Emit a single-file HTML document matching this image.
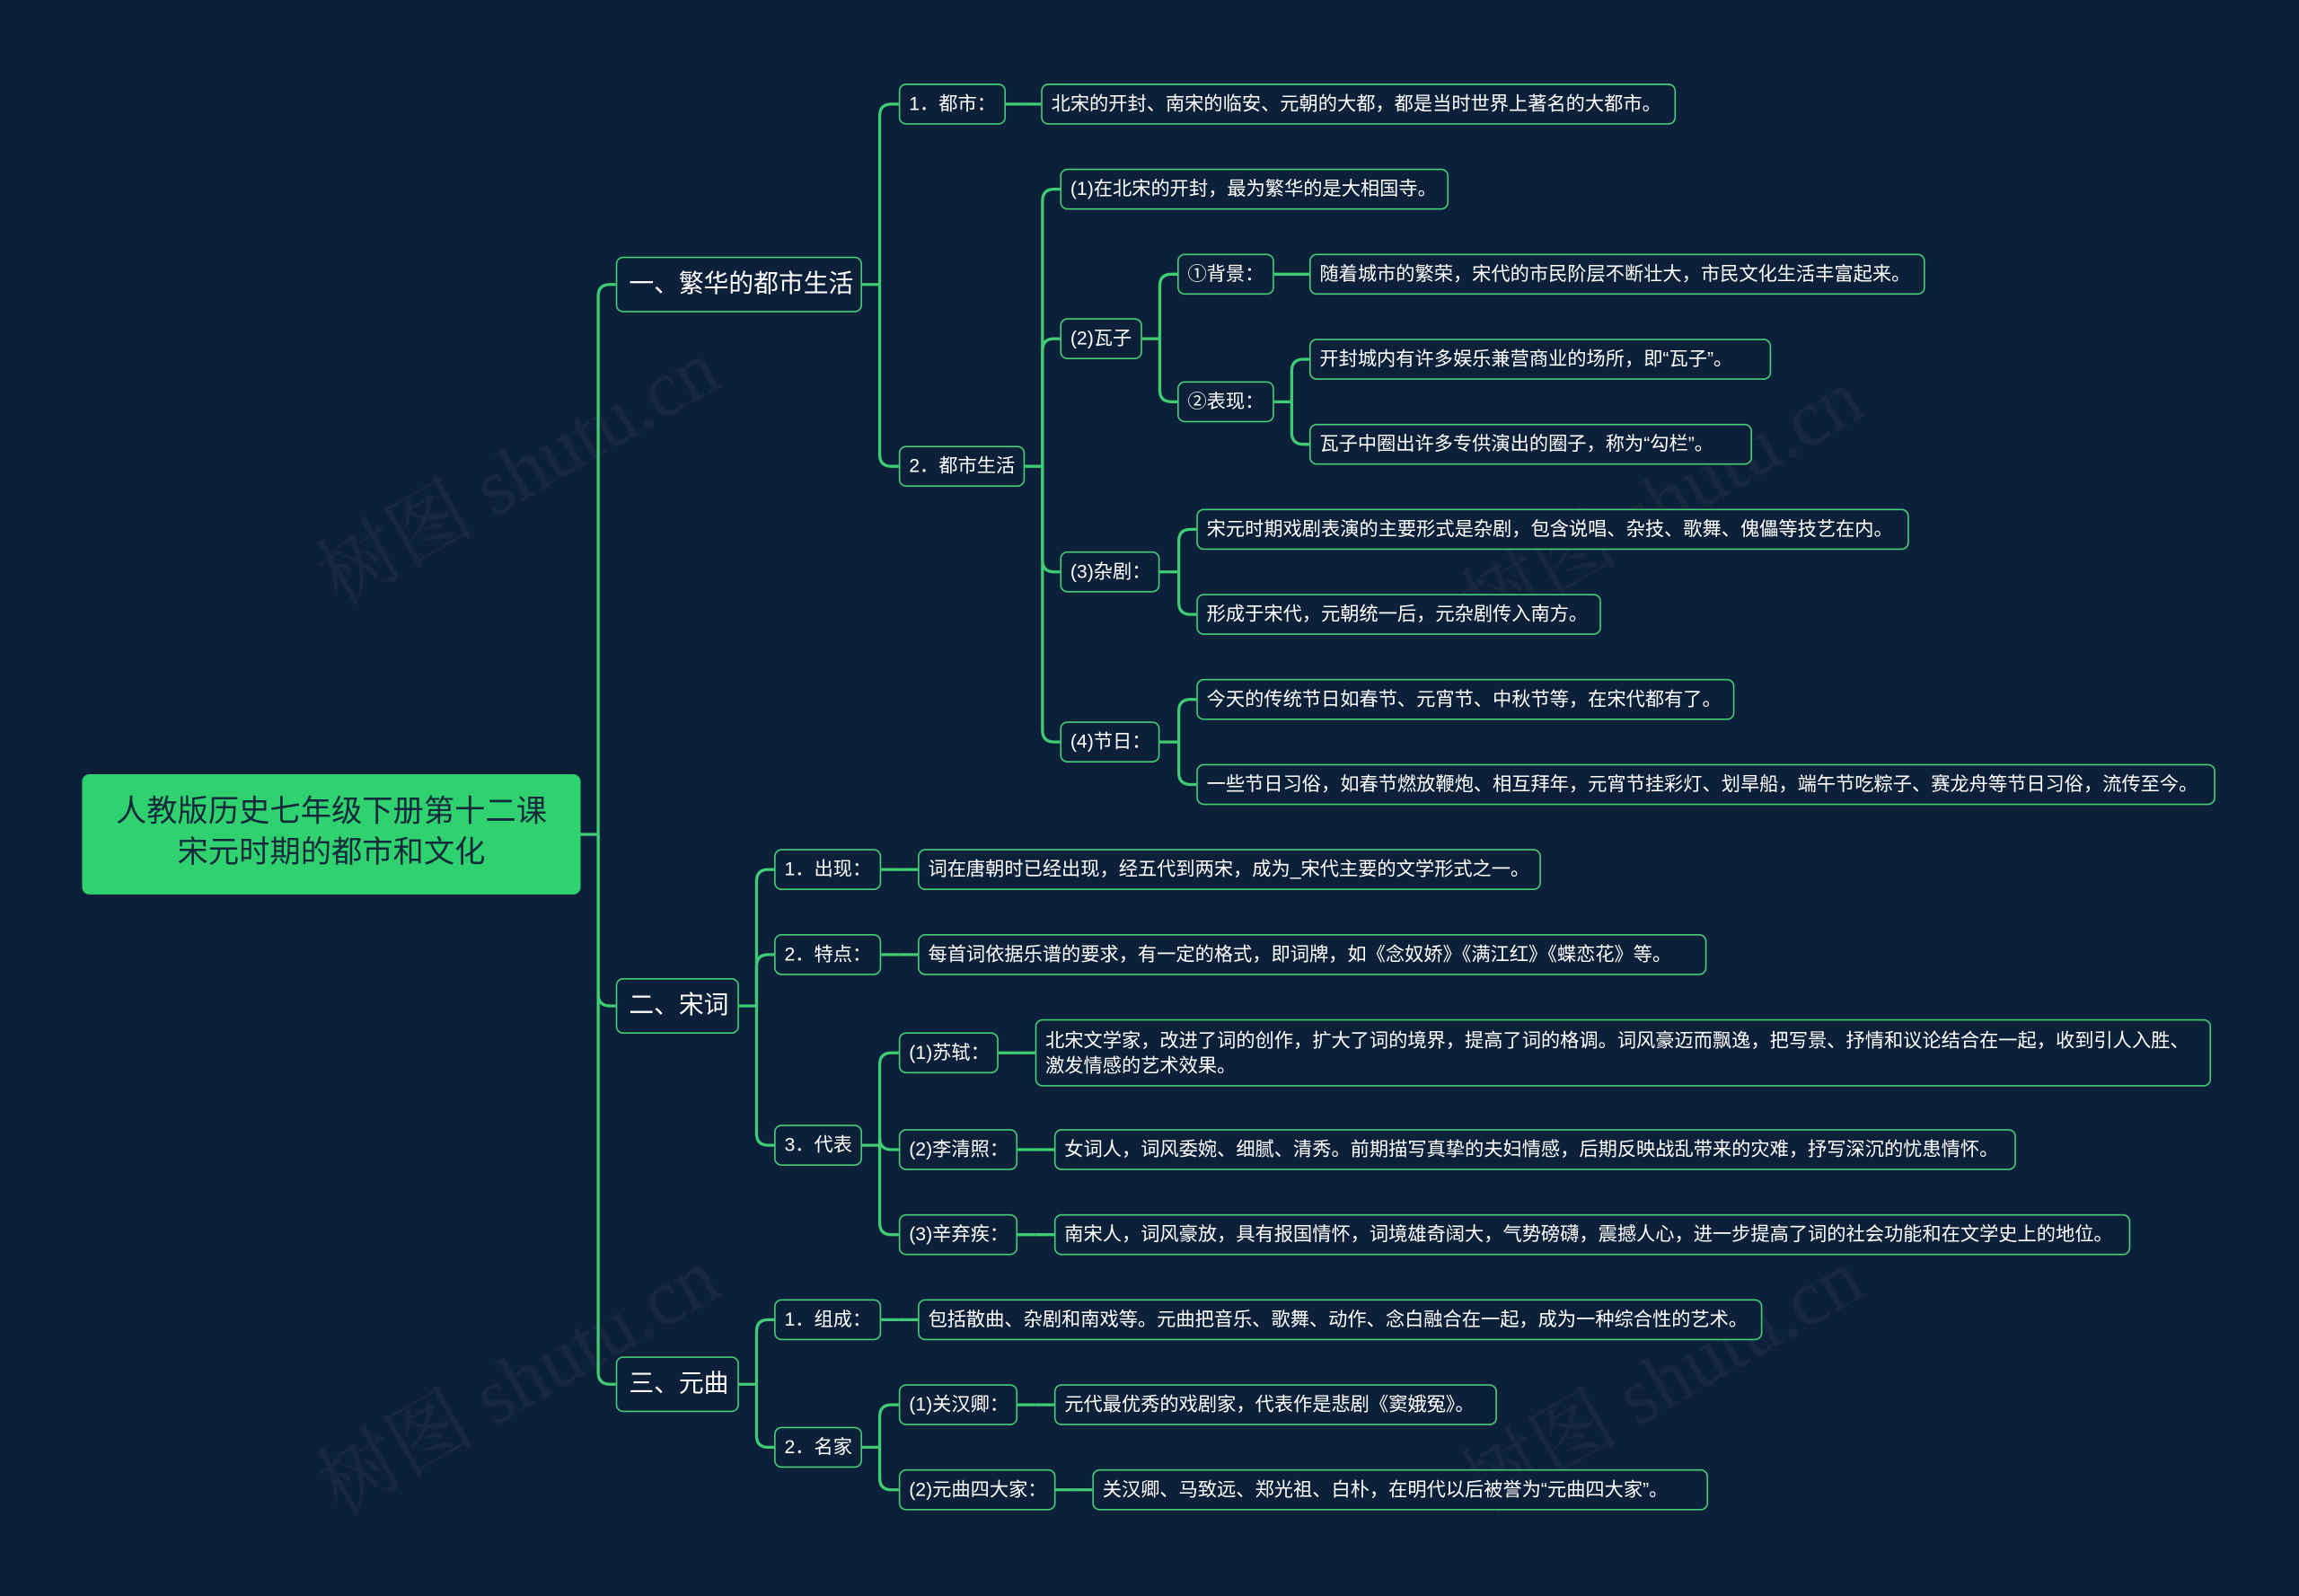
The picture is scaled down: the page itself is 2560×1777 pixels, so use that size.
<!DOCTYPE html>
<html><head><meta charset="utf-8">
<style>
html,body{margin:0;padding:0;background:#0d2039;}
body{width:2560px;height:1777px;overflow:hidden;}
#w{position:absolute;left:0;top:0;width:1568px;height:1088px;transform:scale(1.63265);transform-origin:0 0;font-family:"Liberation Sans","Noto Sans CJK SC",sans-serif;}
.n{position:absolute;box-sizing:border-box;border:1.2px solid #45cc78;border-radius:5px;background:#0d2039;color:#fff;font-size:13px;line-height:26px;height:28px;padding:0 6px;white-space:nowrap;}
.l1{font-size:17px;line-height:36px;height:38px;padding:0 8px;}
.root{position:absolute;left:56px;top:528px;width:340px;height:82px;background:#2fd26e;border-radius:5px;color:#142a3c;font-size:21px;line-height:28px;text-align:center;box-sizing:border-box;padding-top:12px;}
.wm{position:absolute;color:rgba(255,255,255,0.04);font-size:54px;transform:rotate(-30deg);font-family:"Liberation Serif","Noto Serif CJK SC",serif;white-space:nowrap;}
svg{position:absolute;left:0;top:0;}
</style></head><body><div id="w">
<div class="wm" style="left:200px;top:280px">树图 shutu.cn</div>
<div class="wm" style="left:980px;top:300px">树图 shutu.cn</div>
<div class="wm" style="left:200px;top:900px">树图 shutu.cn</div>
<div class="wm" style="left:980px;top:900px">树图 shutu.cn</div>
<svg width="1568" height="1088" fill="none" stroke="#3fcc74" stroke-width="2" id="s"></svg>
<div class="root">人教版历史七年级下册第十二课<br>宋元时期的都市和文化</div>
<div id="nodes"></div>
</div>
<script>
var N=[
// x1,y1,x2,y2,text,cls
[420,175,588,213,"一、繁华的都市生活","l1"],
[420,667,504,705,"二、宋词","l1"],
[420,925,504,963,"三、元曲","l1"],
[613,57,686,85,"1．都市："],
[710,57,1143,85,"北宋的开封、南宋的临安、元朝的大都，都是当时世界上著名的大都市。"],
[613,304,699,332,"2．都市生活"],
[723,115,988,143,"(1)在北宋的开封，最为繁华的是大相国寺。"],
[723,217,779,245,"(2)瓦子"],
[803,173,869,201,"①背景："],
[893,173,1313,201,"随着城市的繁荣，宋代的市民阶层不断壮大，市民文化生活丰富起来。"],
[803,260,869,288,"②表现："],
[893,231,1208,259,"开封城内有许多娱乐兼营商业的场所，即“瓦子”。"],
[893,289,1195,317,"瓦子中圈出许多专供演出的圈子，称为“勾栏”。"],
[723,376,791,404,"(3)杂剧："],
[816,347,1302,375,"宋元时期戏剧表演的主要形式是杂剧，包含说唱、杂技、歌舞、傀儡等技艺在内。"],
[816,405,1092,433,"形成于宋代，元朝统一后，元杂剧传入南方。"],
[723,492,791,520,"(4)节日："],
[816,463,1183,491,"今天的传统节日如春节、元宵节、中秋节等，在宋代都有了。"],
[816,521,1511,549,"一些节日习俗，如春节燃放鞭炮、相互拜年，元宵节挂彩灯、划旱船，端午节吃粽子、赛龙舟等节日习俗，流传至今。"],
[528,579,601,607,"1．出现："],
[626,579,1051,607,"词在唐朝时已经出现，经五代到两宋，成为_宋代主要的文学形式之一。"],
[528,637,601,665,"2．特点："],
[626,637,1164,665,"每首词依据乐谱的要求，有一定的格式，即词牌，如《念奴娇》《满江红》《蝶恋花》等。"],
[528,767,588,795,"3．代表"],
[613,704,681,732,"(1)苏轼："],
[706,695,1508,741,"北宋文学家，改进了词的创作，扩大了词的境界，提高了词的格调。词风豪迈而飘逸，把写景、抒情和议论结合在一起，收到引人入胜、<br>激发情感的艺术效果。","two"],
[613,770,694,798,"(2)李清照："],
[719,770,1375,798,"女词人，词风委婉、细腻、清秀。前期描写真挚的夫妇情感，后期反映战乱带来的灾难，抒写深沉的忧患情怀。"],
[613,828,694,856,"(3)辛弃疾："],
[719,828,1453,856,"南宋人，词风豪放，具有报国情怀，词境雄奇阔大，气势磅礴，震撼人心，进一步提高了词的社会功能和在文学史上的地位。"],
[528,886,601,914,"1．组成："],
[626,886,1202,914,"包括散曲、杂剧和南戏等。元曲把音乐、歌舞、动作、念白融合在一起，成为一种综合性的艺术。"],
[528,973,588,1001,"2．名家"],
[613,944,694,972,"(1)关汉卿："],
[719,944,1021,972,"元代最优秀的戏剧家，代表作是悲剧《窦娥冤》。"],
[613,1002,720,1030,"(2)元曲四大家："],
[745,1002,1165,1030,"关汉卿、马致远、郑光祖、白朴，在明代以后被誉为“元曲四大家”。"]
];
var h="";
N.forEach(function(n){
 var st="left:"+n[0]+"px;top:"+n[1]+"px;width:"+(n[2]-n[0])+"px;height:"+(n[3]-n[1])+"px;";
 if(n[5]=="two")st+="line-height:17px;padding-top:5px;";
 h+='<div class="n '+(n[5]||"")+'" style="'+st+'">'+n[4]+'</div>';
});
document.getElementById("nodes").innerHTML=h;
// connections: parent right x, parent y, branch x, [child left x, child y]...
var C=[
[396,569,408,[[420,194],[420,686],[420,944]]],
[588,194,600,[[613,71],[613,318]]],
[686,71,698,[[710,71]]],
[699,318,711,[[723,129],[723,231],[723,390],[723,506]]],
[779,231,791,[[803,187],[803,274]]],
[869,187,881,[[893,187]]],
[869,274,881,[[893,245],[893,303]]],
[791,390,804,[[816,361],[816,419]]],
[791,506,804,[[816,477],[816,535]]],
[504,686,516,[[528,593],[528,651],[528,781]]],
[601,593,613,[[626,593]]],
[601,651,613,[[626,651]]],
[588,781,600,[[613,718],[613,784],[613,842]]],
[681,718,693,[[706,718]]],
[694,784,706,[[719,784]]],
[694,842,706,[[719,842]]],
[504,944,516,[[528,900],[528,987]]],
[601,900,613,[[626,900]]],
[588,987,600,[[613,958],[613,1016]]],
[694,958,706,[[719,958]]],
[720,1016,732,[[745,1016]]]
];
var p="";
C.forEach(function(c){
 var px=c[0],py=c[1],bx=c[2];
 p+='<path d="M'+px+','+py+' H'+bx+'"/>';
 c[3].forEach(function(ch){
  var cx=ch[0],cy=ch[1],r=8;
  if(Math.abs(cy-py)<2){p+='<path d="M'+bx+','+py+' H'+cx+'"/>';return;}
  var s=cy>py?1:-1;
  p+='<path d="M'+bx+','+py+' V'+(cy-s*r)+' Q'+bx+','+cy+' '+(bx+r)+','+cy+' H'+cx+'"/>';
 });
});
document.getElementById("s").innerHTML=p;
</script>
</body></html>
